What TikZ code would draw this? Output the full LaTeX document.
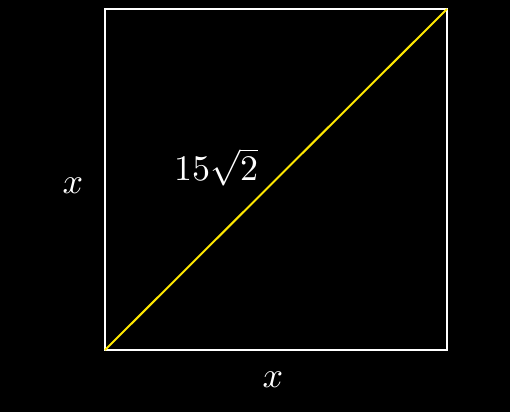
\documentclass[tikz,border=0pt]{standalone}
\newcommand{\bigtxt}[1]{\scalebox{3.6}{#1}}
\begin{document}
\begin{tikzpicture}[x=1pt,y=-1pt,
  lbl/.style={text=white,inner sep=0pt}]
\fill[black] (0,0) rectangle (510,412);
\useasboundingbox (0,0) rectangle (510,412);
\coordinate (bl) at (105,350);
\coordinate (tr) at (447,9);
\draw[white,line width=2pt] (bl) rectangle (tr);
\draw[yellow!90!orange,line width=2pt] (bl) -- (tr);
\node[lbl] (lx) at (73,186) {\bigtxt{$x$}};
\node[lbl] (bx) at (273,380) {\bigtxt{$x$}};
\node[lbl] (d) at (216,167) {\bigtxt{$15\sqrt{2}$}};
\end{tikzpicture}
\end{document}
